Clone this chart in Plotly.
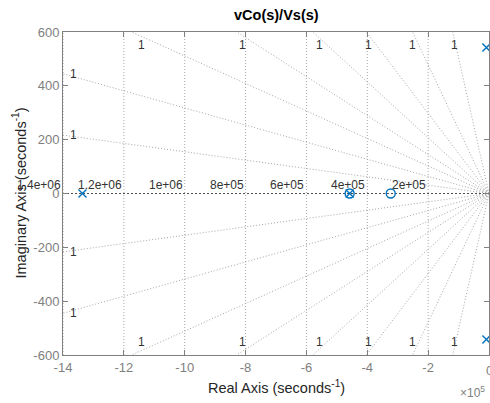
import numpy as np
import plotly.graph_objects as go

# ---------------- data ----------------
title_text = "vCo(s)/Vs(s)"
pole_re = [-1.336e6, -4.58e5, -8.5e3, -8.5e3]
pole_im = [0, 0, 542, -542]
zero_re = [-4.58e5, -3.23e5]
zero_im = [0, 0]

wn_vals = [2e5, 4e5, 6e5, 8e5, 1e6, 1.2e6, 1.4e6]
wn_labels = ["2e+05", "4e+05", "6e+05", "8e+05", "1e+06", "1.2e+06", "1.4e+06"]

# damping lines: where they meet Im = +/-600 and where they meet Re = -1.4e6
zeta_top_re = [-1.174e6, -8.29e5, -5.79e5, -4.03e5, -2.51e5, -1.19e5]
zeta_left_im = [445, 217]
zeta_label = "1"

xtick_vals = [-1.4e6, -1.2e6, -1e6, -8e5, -6e5, -4e5, -2e5, 0]
xtick_text = ["-14", "-12", "-10", "-8", "-6", "-4", "-2", "0"]
ytick_vals = [-600, -400, -200, 0, 200, 400, 600]
ytick_text = ["-600", "-400", "-200", "0", "200", "400", "600"]

X_MIN, X_MAX = -1.4e6, 0
Y_MIN, Y_MAX = -600, 600

# ---------------- styles ----------------
FONT = "Liberation Sans, Arial, sans-serif"
GRID_C = "#a6a6a6"
AX_C = "#808080"
BLUE = "#0072BD"

fig = go.Figure()

# natural-frequency circles (look vertical at this aspect)
yy = np.linspace(Y_MIN, Y_MAX, 41)
for r in wn_vals:
    xx = -np.sqrt(r ** 2 - yy ** 2)
    fig.add_trace(go.Scatter(x=xx, y=yy, mode="lines", hoverinfo="skip",
                             line=dict(color=GRID_C, width=1, dash="1px,2px"),
                             showlegend=False))

# damping lines
for t in zeta_top_re:
    for s in (1, -1):
        fig.add_trace(go.Scatter(x=[0, t], y=[0, s * Y_MAX], mode="lines", hoverinfo="skip",
                                 line=dict(color=GRID_C, width=1, dash="1px,2px"),
                                 showlegend=False))
for yv in zeta_left_im:
    for s in (1, -1):
        fig.add_trace(go.Scatter(x=[0, X_MIN], y=[0, s * yv], mode="lines", hoverinfo="skip",
                                 line=dict(color=GRID_C, width=1, dash="1px,2px"),
                                 showlegend=False))
# real axis (zeta = 1)
fig.add_trace(go.Scatter(x=[0, X_MIN], y=[0, 0], mode="lines", hoverinfo="skip",
                         line=dict(color="#505050", width=1, dash="2px,2px"),
                         showlegend=False))

# poles and zeros
fig.add_trace(go.Scatter(x=pole_re, y=pole_im, mode="markers", showlegend=False,
                         marker=dict(symbol="x-thin-open", size=8, color=BLUE,
                                     line=dict(color=BLUE, width=1.4))))
fig.add_trace(go.Scatter(x=zero_re, y=zero_im, mode="markers", showlegend=False,
                         marker=dict(symbol="circle-open", size=9, color=BLUE,
                                     line=dict(color=BLUE, width=1.4))))

annotations = []
# wn labels
for r, lab in zip(wn_vals, wn_labels):
    annotations.append(dict(x=-r, y=0, xref="x", yref="y", text=lab, showarrow=False,
                            xanchor="right", yanchor="bottom", xshift=0, yshift=0,
                            font=dict(family=FONT, size=12, color="#333333")))
# damping labels
top_shift = [10, 6, 7, 2, 0, 2]
for t, dx in zip(zeta_top_re, top_shift):
    for s in (1, -1):
        annotations.append(dict(x=t, y=s * Y_MAX, xref="x", yref="y", text=zeta_label,
                                showarrow=False, xanchor="center", yanchor="middle",
                                xshift=dx, yshift=-13 * s,
                                font=dict(family=FONT, size=12, color="#333333")))
for yv in zeta_left_im:
    for s in (1, -1):
        annotations.append(dict(x=X_MIN, y=s * yv, xref="x", yref="y", text=zeta_label,
                                showarrow=False, xanchor="center", yanchor="middle",
                                xshift=10, yshift=0,
                                font=dict(family=FONT, size=12, color="#333333")))

# title and axis titles
annotations.append(dict(x=0.5, y=1, xref="paper", yref="paper", text="<b>" + title_text + "</b>",
                        showarrow=False, xanchor="center", yanchor="middle", yshift=17,
                        font=dict(family=FONT, size=14.5, color="#000000")))
annotations.append(dict(x=0.5, y=0, xref="paper", yref="paper",
                        text="Real Axis (seconds<sup>-1</sup>)",
                        showarrow=False, xanchor="center", yanchor="middle", yshift=-32,
                        font=dict(family=FONT, size=14.5, color="#262626")))
annotations.append(dict(x=0, y=0.5, xref="paper", yref="paper",
                        text="Imaginary Axis (seconds<sup>-1</sup>)", textangle=-90,
                        showarrow=False, xanchor="center", yanchor="middle", xshift=-44,
                        font=dict(family=FONT, size=14.5, color="#262626")))
annotations.append(dict(x=1, y=0, xref="paper", yref="paper",
                        text="\u00d710<sup>5</sup>",
                        showarrow=False, xanchor="right", yanchor="middle", xshift=-2, yshift=-37,
                        font=dict(family=FONT, size=12, color="#808080")))
# last x tick label sits on the figure edge (partly cut, as in the reference)
annotations.append(dict(x=xtick_vals[-1], y=0, xref="x", yref="paper", text=xtick_text[-1],
                        showarrow=False, xanchor="center", yanchor="middle", yshift=-15,
                        font=dict(family=FONT, size=13, color="#808080")))

axis_common = dict(showgrid=False, zeroline=False, showline=True, linecolor=AX_C, linewidth=1,
                   mirror="ticks", ticks="inside", ticklen=5, tickcolor=AX_C, tickwidth=1,
                   tickfont=dict(family=FONT, size=13, color="#808080"))

fig.update_layout(
    width=490, height=403,
    margin=dict(l=63, r=1, t=32, b=48),
    paper_bgcolor="white", plot_bgcolor="white",
    xaxis=dict(range=[X_MIN, X_MAX], tickvals=xtick_vals, ticktext=xtick_text, **axis_common),
    yaxis=dict(range=[Y_MIN, Y_MAX], tickvals=ytick_vals, ticktext=ytick_text, **axis_common),
    annotations=annotations,
    showlegend=False,
)

fig.write_html("out.html")
